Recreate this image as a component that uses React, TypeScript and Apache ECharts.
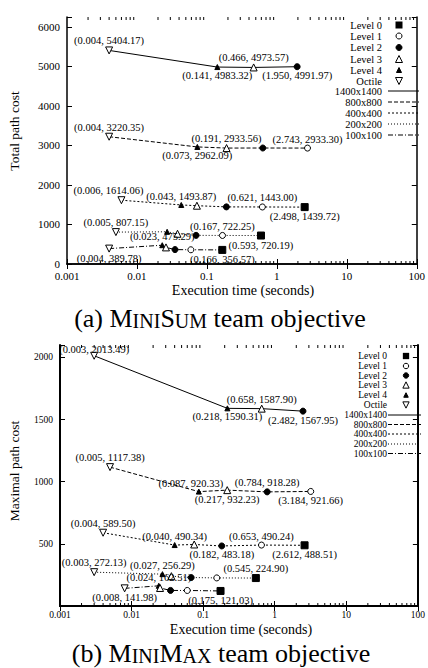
import React, { useEffect, useRef } from "react";
import * as echarts from "echarts";

// ---------- DATA ----------
const LEVEL_NAMES = ["Level 0", "Level 1", "Level 2", "Level 3", "Level 4", "Octile"];
const SIZE_NAMES = ["1400x1400", "800x800", "400x400", "200x200", "100x100"];

// (a) MiniSum — level index: 0..4 = Level 0..4, 5 = Octile
const SUM_1400_X = [0.004, 0.141, 0.466, 1.95];
const SUM_1400_Y = [5404.17, 4983.32, 4973.57, 4991.97];
const SUM_1400_LV = [5, 4, 3, 2];
const SUM_800_X = [0.004, 0.073, 0.191, 0.63, 2.743];
const SUM_800_Y = [3220.35, 2962.09, 2933.56, 2935, 2933.3];
const SUM_800_LV = [5, 4, 3, 2, 1];
const SUM_400_X = [0.006, 0.043, 0.072, 0.19, 0.621, 2.498];
const SUM_400_Y = [1614.06, 1493.87, 1475, 1445, 1443.0, 1439.72];
const SUM_400_LV = [5, 4, 3, 2, 1, 0];
const SUM_200_X = [0.005, 0.027, 0.038, 0.07, 0.167, 0.593];
const SUM_200_Y = [807.15, 815, 765, 725, 722.25, 720.19];
const SUM_200_LV = [5, 4, 3, 2, 1, 0];
const SUM_100_X = [0.004, 0.023, 0.026, 0.035, 0.059, 0.166];
const SUM_100_Y = [389.78, 475.29, 420, 365, 360, 356.57];
const SUM_100_LV = [5, 4, 3, 2, 1, 0];

// (b) MiniMax
const MAX_1400_X = [0.003, 0.218, 0.658, 2.482];
const MAX_1400_Y = [2013.49, 1590.31, 1587.9, 1567.95];
const MAX_1400_LV = [5, 4, 3, 2];
const MAX_800_X = [0.005, 0.087, 0.217, 0.784, 3.184];
const MAX_800_Y = [1117.38, 920.33, 932.23, 918.28, 921.66];
const MAX_800_LV = [5, 4, 3, 2, 1];
const MAX_400_X = [0.004, 0.04, 0.075, 0.182, 0.653, 2.612];
const MAX_400_Y = [589.5, 490.34, 495, 483.18, 490.24, 488.51];
const MAX_400_LV = [5, 4, 3, 2, 1, 0];
const MAX_200_X = [0.003, 0.027, 0.036, 0.068, 0.155, 0.545];
const MAX_200_Y = [272.13, 256.29, 240, 229, 226, 224.9];
const MAX_200_LV = [5, 4, 3, 2, 1, 0];
const MAX_100_X = [0.008, 0.024, 0.025, 0.035, 0.06, 0.175];
const MAX_100_Y = [141.98, 162.51, 145, 125, 125, 121.03];
const MAX_100_LV = [5, 4, 3, 2, 1, 0];

const X_MIN = 0.001;
const X_MAX = 100;
const SUM_Y_MAX = 6250;
const SUM_Y_STEP = 1000;
const MAX_Y_MAX = 2100;
const MAX_Y_STEP = 500;

// ---------- STYLE ----------
const SERIF = "'Liberation Serif', 'Times New Roman', serif";
const CAPTION_FONT = "'Liberation Serif', 'Times New Roman', serif";

const DASHES: any[] = ["solid", [4, 2], [2, 2], [1, 2], [5, 2, 1, 2]];

const SYM = [
  { symbol: "rect", size: 7, fill: true, rotate: 0 },
  { symbol: "circle", size: 6, fill: false, rotate: 0 },
  { symbol: "circle", size: 6, fill: true, rotate: 0 },
  { symbol: "triangle", size: 7, fill: false, rotate: 0 },
  { symbol: "triangle", size: 5, fill: true, rotate: 0 },
  { symbol: "triangle", size: 7, fill: false, rotate: 180 },
];

// label placement per point: t = above, b = below, "" = no label
const SUM_PLACE = [
  ["t", "b", "t", "b"],
  ["t", "b", "t", "", "t"],
  ["t", "t", "", "", "t", "b"],
  ["t", "", "", "", "t", "b"],
  ["b", "t", "", "", "", "b"],
];
const SUM_OFF = [
  [[0, 0], [0, 0], [0, 0], [0, 0]],
  [[0, 0], [0, 0], [0, 0], [0, 0], [0, 0]],
  [[-13, 0], [0, 0], [0, 0], [0, 0], [0, 0], [0, 0]],
  [[0, 0], [0, 0], [0, 0], [0, 0], [0, 0], [0, 0]],
  [[0, 0], [0, 0], [0, 0], [0, 0], [0, 0], [0, 0]],
];
const MAX_PLACE = [
  ["t", "b", "t", "b"],
  ["t", "t", "b", "t", "b"],
  ["t", "t", "", "b", "t", "b"],
  ["t", "t", "", "", "", "t"],
  ["b", "t", "", "", "", "b"],
];
const MAX_OFF = [
  [[0, 3], [0, 0], [0, 0], [0, 0]],
  [[0, 0], [-8, 0], [0, 0], [0, 0], [0, 0]],
  [[0, 0], [0, 0], [0, 0], [0, 0], [0, 0], [0, 0]],
  [[0, 0], [0, 0], [0, 0], [0, 0], [0, 0], [0, 0]],
  [[0, 0], [0, 0], [0, 0], [0, 0], [0, 0], [0, 0]],
];

const SUM_SETS = [
  [SUM_1400_X, SUM_1400_Y, SUM_1400_LV],
  [SUM_800_X, SUM_800_Y, SUM_800_LV],
  [SUM_400_X, SUM_400_Y, SUM_400_LV],
  [SUM_200_X, SUM_200_Y, SUM_200_LV],
  [SUM_100_X, SUM_100_Y, SUM_100_LV],
];
const MAX_SETS = [
  [MAX_1400_X, MAX_1400_Y, MAX_1400_LV],
  [MAX_800_X, MAX_800_Y, MAX_800_LV],
  [MAX_400_X, MAX_400_Y, MAX_400_LV],
  [MAX_200_X, MAX_200_Y, MAX_200_LV],
  [MAX_100_X, MAX_100_Y, MAX_100_LV],
];

function minorTickValues(): number[] {
  const out: number[] = [];
  for (let e = -3; e <= 1; e++) {
    for (let m = 2; m <= 9; m++) out.push(+(m * Math.pow(10, e)).toPrecision(2));
  }
  return out;
}

function logLabel(v: number) {
  const e = Math.round(Math.log10(v));
  return e < 0 ? Math.pow(10, e).toFixed(-e) : String(Math.round(Math.pow(10, e)));
}

function buildSeries(sets: any[], places: string[][], offs: number[][][], axisIdx: number, fontSize: number) {
  return sets.map((s, si) => {
    const [xs, ys, lv] = s as [number[], number[], number[]];
    return {
      type: "line",
      name: SIZE_NAMES[si],
      xAxisIndex: axisIdx,
      yAxisIndex: axisIdx,
      showSymbol: true,
      showAllSymbol: true,
      silent: true,
      z: 3,
      lineStyle: { color: "#000", width: 1, type: DASHES[si] },
      itemStyle: { color: "#000" },
      label: {
        show: true,
        color: "#000",
        fontFamily: SERIF,
        fontSize,
        distance: 0,
        formatter: (p: any) => `(${p.value[0].toFixed(3)}, ${p.value[1].toFixed(2)})`,
      },
      data: xs.map((x, i) => {
        const sym = SYM[lv[i]];
        const pl = places[si][i];
        return {
          value: [x, ys[i]],
          symbol: sym.symbol,
          symbolSize: sym.size,
          symbolRotate: sym.rotate,
          itemStyle: {
            color: sym.fill ? "#000" : "#fff",
            borderColor: "#000",
            borderWidth: 1,
          },
          label: pl
            ? { show: true, position: pl === "t" ? "top" : "bottom", offset: offs[si][i] }
            : { show: false },
        };
      }),
    };
  });
}

function minorTickSeries(axisIdx: number, yRef: number) {
  return {
    type: "custom",
    xAxisIndex: axisIdx,
    yAxisIndex: axisIdx,
    silent: true,
    clip: false,
    z: 1,
    data: minorTickValues().map((v) => [v, yRef]),
    renderItem: (params: any, api: any) => {
      const cs = params.coordSys;
      const px = api.coord([api.value(0), api.value(1)])[0];
      const b = cs.y + cs.height;
      const t = cs.y;
      return {
        type: "group",
        children: [
          { type: "line", shape: { x1: px, y1: b, x2: px, y2: b - 3 }, style: { stroke: "#000", lineWidth: 1 } },
          { type: "line", shape: { x1: px, y1: t, x2: px, y2: t + 3 }, style: { stroke: "#000", lineWidth: 1 } },
        ],
      };
    },
  };
}

function xAxes(gridIndex: number, borderW: number, fontSize: number, margin: number) {
  const common = {
    type: "log",
    logBase: 10,
    min: X_MIN,
    max: X_MAX,
    gridIndex,
    splitLine: { show: false },
    axisLine: { show: true, lineStyle: { color: "#000", width: borderW } },
    axisTick: { show: true, inside: true, length: 5, lineStyle: { color: "#000", width: 1 } },
  };
  return [
    {
      ...common,
      position: "bottom",
      axisLabel: { color: "#000", fontFamily: SERIF, fontSize, margin, formatter: logLabel },
    },
    { ...common, position: "top", axisLabel: { show: false } },
  ];
}

function yAxes(gridIndex: number, max: number, step: number, borderW: number, fontSize: number, hideZero: boolean) {
  const common = {
    type: "value",
    min: 0,
    max,
    interval: step,
    gridIndex,
    splitLine: { show: false },
    axisLine: { show: true, lineStyle: { color: "#000", width: borderW } },
    axisTick: { show: true, inside: true, length: 5, lineStyle: { color: "#000", width: 1 } },
  };
  return [
    {
      ...common,
      position: "left",
      axisLabel: {
        color: "#000",
        fontFamily: SERIF,
        fontSize,
        margin: 7,
        formatter: (v: number) => (v % step === 0 && !(hideZero && v === 0) ? String(v) : ""),
      },
    },
    { ...common, position: "right", axisLabel: { show: false } },
  ];
}

function legendGraphics(textRight: number, markerX: number, lx1: number, lx2: number, ys: number[], fontSize: number, scale: number) {
  const els: any[] = [];
  const names = [...LEVEL_NAMES, ...SIZE_NAMES];
  names.forEach((n, i) => {
    const y = ys[i];
    els.push({
      type: "text",
      x: textRight,
      y,
      style: { text: n, fontFamily: SERIF, fontSize, fill: "#000", align: "right", verticalAlign: "middle" },
    });
    if (i < 6) {
      const sym = SYM[i];
      const s = sym.size * scale;
      const fill = sym.fill ? "#000" : "#fff";
      if (sym.symbol === "rect") {
        els.push({ type: "rect", shape: { x: markerX - s / 2, y: y - s / 2, width: s, height: s }, style: { fill: "#000" } });
      } else if (sym.symbol === "circle") {
        els.push({ type: "circle", shape: { cx: markerX, cy: y, r: s / 2 }, style: { fill, stroke: "#000", lineWidth: 1 } });
      } else {
        const h = s / 2;
        const pts = sym.rotate
          ? [[markerX - h, y - h], [markerX + h, y - h], [markerX, y + h]]
          : [[markerX, y - h], [markerX + h, y + h], [markerX - h, y + h]];
        els.push({ type: "polygon", shape: { points: pts }, style: { fill, stroke: "#000", lineWidth: 1 } });
      }
    } else {
      const d = DASHES[i - 6];
      els.push({
        type: "line",
        shape: { x1: lx1, y1: y, x2: lx2, y2: y },
        style: { stroke: "#000", lineWidth: 1, lineDash: d === "solid" ? null : d },
      });
    }
  });
  return els;
}

function caption(x: number, y: number, prefix: string, a: string, aRest: string, b: string, bRest: string) {
  const big = 26;
  const small = 20;
  return {
    type: "text",
    x,
    y,
    style: {
      text: `{n|${prefix} ${a}}{s|${aRest}}{n|${b}}{s|${bRest}}{n| team objective}`,
      align: "center",
      verticalAlign: "middle",
      rich: {
        n: { fontSize: big, fontFamily: CAPTION_FONT, fill: "#000", verticalAlign: "bottom" },
        s: { fontSize: small, fontFamily: CAPTION_FONT, fill: "#000", verticalAlign: "bottom" },
      },
    },
  };
}

function axisTitle(x: number, y: number, text: string, vertical: boolean, size: number) {
  return {
    type: "text",
    x,
    y,
    rotation: vertical ? Math.PI / 2 : 0,
    style: { text, fontFamily: SERIF, fontSize: size, fill: "#000", align: "center", verticalAlign: "middle" },
  };
}

export default function App() {
  const ref = useRef<HTMLDivElement>(null);
  useEffect(() => {
    if (!ref.current) return;
    const chart = echarts.init(ref.current, undefined, { renderer: "svg" });
    const option: any = {
      animation: false,
      backgroundColor: "#fff",
      grid: [
        { left: 67, right: 9, top: 17, bottom: 404 },
        { left: 60, right: 7, top: 345, bottom: 62 },
      ],
      xAxis: [...xAxes(0, 1.5, 11, 6), ...xAxes(1, 2, 9.5, 4)],
      yAxis: [
        ...yAxes(0, SUM_Y_MAX, SUM_Y_STEP, 1.5, 11, false),
        ...yAxes(1, MAX_Y_MAX, MAX_Y_STEP, 2, 9.5, true),
      ],
      series: [
        minorTickSeries(0, 100),
        minorTickSeries(2, 100),
        ...buildSeries(SUM_SETS, SUM_PLACE, SUM_OFF, 0, 10.5),
        ...buildSeries(MAX_SETS, MAX_PLACE, MAX_OFF, 2, 10.5),
      ],
      graphic: [
        axisTitle(14, 131, "Total path cost", true, 13.5),
        axisTitle(243, 290, "Execution time (seconds)", false, 14),
        axisTitle(14, 471, "Maximal path cost", true, 13.5),
        axisTitle(241, 629, "Execution time (seconds)", false, 14),
        caption(220, 318, "(a)", "M", "INI", "S", "UM"),
        caption(221, 653, "(b)", "M", "INI", "M", "AX"),
        ...legendGraphics(382, 399, 388, 419, [25, 36, 47.5, 59, 70, 81, 91, 102, 113, 124, 135], 10.5, 1),
        ...legendGraphics(387, 406, 388, 421, [356, 366, 375.5, 385, 395, 405, 415, 424.5, 434, 444, 453.5], 9.5, 0.9),
      ],
    };
    chart.setOption(option);
    return () => chart.dispose();
  }, []);
  return (
    <div
      ref={ref}
      style={{ position: "absolute", left: 0, top: 0, width: 428, height: 668, background: "#fff" }}
    />
  );
}
